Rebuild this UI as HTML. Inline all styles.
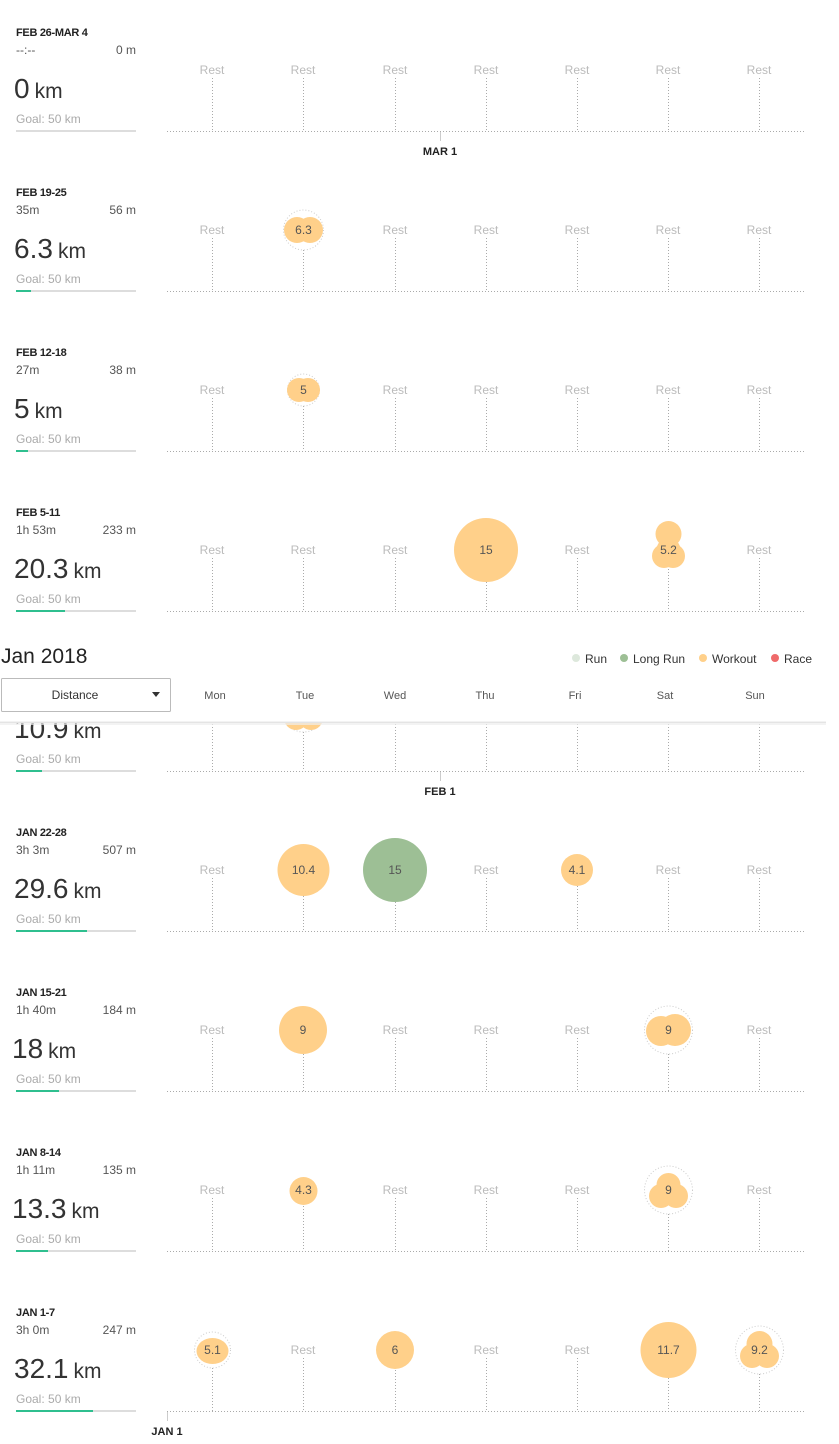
<!DOCTYPE html>
<html><head><meta charset="utf-8"><style>
html,body{margin:0;padding:0;background:#fff;}
svg{display:block;font-family:"Liberation Sans",sans-serif;}
.t{font-size:11px;font-weight:bold;fill:#222;letter-spacing:-0.3px}
.s{font-size:12px;fill:#555}
.b{font-size:28px;fill:#333}
.g{font-size:12px;fill:#aaa}
.r{font-size:12px;fill:#bbb;text-anchor:middle}
.v{font-size:12px;fill:#555;text-anchor:middle}
.dl{stroke:#aaa;stroke-width:1;stroke-dasharray:1,2}
.dc{fill:none;stroke:#ccc;stroke-width:1;stroke-dasharray:1,2}
.o{fill:#ffd08a}
.m{font-size:11px;font-weight:bold;fill:#222;text-anchor:middle}
</style></head><body>
<svg width="839" height="1444" viewBox="0 0 839 1444">
<defs>
<g id="base">
<line x1="167" y1="131.5" x2="804" y2="131.5" class="dl"/>
<rect x="16" y="130" width="120" height="2" fill="#ddd"/>
</g>
</defs>

<g transform="translate(0,0)">
<use href="#base"/>
<text x="16" y="36" class="t">FEB 26-MAR 4</text>
<text x="16" y="54" class="s">--:--</text><text x="136" y="54" class="s" text-anchor="end">0 m</text>
<text x="14" y="98" class="b">0<tspan font-size="21" dx="5">km</tspan></text>
<text x="16" y="123" class="g">Goal: 50 km</text>
<g class="dl"><line x1="212.5" y1="78" x2="212.5" y2="131"/><line x1="303.5" y1="78" x2="303.5" y2="131"/><line x1="395.5" y1="78" x2="395.5" y2="131"/><line x1="486.5" y1="78" x2="486.5" y2="131"/><line x1="577.5" y1="78" x2="577.5" y2="131"/><line x1="668.5" y1="78" x2="668.5" y2="131"/><line x1="759.5" y1="78" x2="759.5" y2="131"/></g>
<text x="212" y="74" class="r">Rest</text><text x="303" y="74" class="r">Rest</text><text x="395" y="74" class="r">Rest</text><text x="486" y="74" class="r">Rest</text><text x="577" y="74" class="r">Rest</text><text x="668" y="74" class="r">Rest</text><text x="759" y="74" class="r">Rest</text>
<line x1="440.5" y1="132" x2="440.5" y2="141" stroke="#ccc"/>
<text x="440" y="155" class="m">MAR 1</text>
</g>

<g transform="translate(0,160)">
<use href="#base"/><rect x="16" y="130" width="15" height="2" fill="#2fbf8f"/>
<text x="16" y="36" class="t">FEB 19-25</text>
<text x="16" y="54" class="s">35m</text><text x="136" y="54" class="s" text-anchor="end">56 m</text>
<text x="14" y="98" class="b">6.3<tspan font-size="21" dx="5">km</tspan></text>
<text x="16" y="123" class="g">Goal: 50 km</text>
<g class="dl"><line x1="212.5" y1="78" x2="212.5" y2="131"/><line x1="303.5" y1="90" x2="303.5" y2="131"/><line x1="395.5" y1="78" x2="395.5" y2="131"/><line x1="486.5" y1="78" x2="486.5" y2="131"/><line x1="577.5" y1="78" x2="577.5" y2="131"/><line x1="668.5" y1="78" x2="668.5" y2="131"/><line x1="759.5" y1="78" x2="759.5" y2="131"/></g>
<text x="212" y="74" class="r">Rest</text><text x="395" y="74" class="r">Rest</text><text x="486" y="74" class="r">Rest</text><text x="577" y="74" class="r">Rest</text><text x="668" y="74" class="r">Rest</text><text x="759" y="74" class="r">Rest</text>
<circle cx="303.5" cy="70" r="20" class="dc"/><circle cx="297" cy="70" r="13" class="o"/><circle cx="310" cy="70" r="13" class="o"/>
<text x="303.5" y="74" class="v">6.3</text>
</g>

<g transform="translate(0,320)">
<use href="#base"/><rect x="16" y="130" width="12" height="2" fill="#2fbf8f"/>
<text x="16" y="36" class="t">FEB 12-18</text>
<text x="16" y="54" class="s">27m</text><text x="136" y="54" class="s" text-anchor="end">38 m</text>
<text x="14" y="98" class="b">5<tspan font-size="21" dx="5">km</tspan></text>
<text x="16" y="123" class="g">Goal: 50 km</text>
<g class="dl"><line x1="212.5" y1="78" x2="212.5" y2="131"/><line x1="303.5" y1="86" x2="303.5" y2="131"/><line x1="395.5" y1="78" x2="395.5" y2="131"/><line x1="486.5" y1="78" x2="486.5" y2="131"/><line x1="577.5" y1="78" x2="577.5" y2="131"/><line x1="668.5" y1="78" x2="668.5" y2="131"/><line x1="759.5" y1="78" x2="759.5" y2="131"/></g>
<text x="212" y="74" class="r">Rest</text><text x="395" y="74" class="r">Rest</text><text x="486" y="74" class="r">Rest</text><text x="577" y="74" class="r">Rest</text><text x="668" y="74" class="r">Rest</text><text x="759" y="74" class="r">Rest</text>
<circle cx="303.5" cy="70" r="16" class="dc"/><circle cx="299" cy="70" r="12" class="o"/><circle cx="308" cy="70" r="12" class="o"/>
<text x="303.5" y="74" class="v">5</text>
</g>

<g transform="translate(0,480)">
<use href="#base"/><rect x="16" y="130" width="49" height="2" fill="#2fbf8f"/>
<text x="16" y="36" class="t">FEB 5-11</text>
<text x="16" y="54" class="s">1h 53m</text><text x="136" y="54" class="s" text-anchor="end">233 m</text>
<text x="14" y="98" class="b">20.3<tspan font-size="21" dx="5">km</tspan></text>
<text x="16" y="123" class="g">Goal: 50 km</text>
<g class="dl"><line x1="212.5" y1="78" x2="212.5" y2="131"/><line x1="303.5" y1="78" x2="303.5" y2="131"/><line x1="395.5" y1="78" x2="395.5" y2="131"/><line x1="486.5" y1="102" x2="486.5" y2="131"/><line x1="577.5" y1="78" x2="577.5" y2="131"/><line x1="668.5" y1="89" x2="668.5" y2="131"/><line x1="759.5" y1="78" x2="759.5" y2="131"/></g>
<text x="212" y="74" class="r">Rest</text><text x="303" y="74" class="r">Rest</text><text x="395" y="74" class="r">Rest</text><text x="577" y="74" class="r">Rest</text><text x="759" y="74" class="r">Rest</text>
<circle cx="486" cy="70" r="32" class="o"/><text x="486" y="74" class="v">15</text>
<circle cx="668.5" cy="54" r="13" class="o"/><circle cx="664" cy="76" r="12" class="o"/><circle cx="673" cy="76" r="12" class="o"/><circle cx="668.5" cy="70" r="12" class="o"/>
<text x="668.5" y="74" class="v">5.2</text>
</g>

<g transform="translate(0,640)">
<use href="#base"/><rect x="16" y="130" width="26" height="2" fill="#2fbf8f"/>
<text x="14" y="98" class="b">10.9<tspan font-size="21" dx="5">km</tspan></text>
<text x="16" y="123" class="g">Goal: 50 km</text>
<g class="dl"><line x1="212.5" y1="78" x2="212.5" y2="131"/><line x1="303.5" y1="92" x2="303.5" y2="131"/><line x1="395.5" y1="78" x2="395.5" y2="131"/><line x1="486.5" y1="78" x2="486.5" y2="131"/><line x1="577.5" y1="78" x2="577.5" y2="131"/><line x1="668.5" y1="78" x2="668.5" y2="131"/><line x1="759.5" y1="78" x2="759.5" y2="131"/></g>
<circle cx="303.5" cy="71" r="21" class="dc"/><circle cx="296" cy="78" r="12" class="o"/><circle cx="311" cy="78" r="12" class="o"/><circle cx="303.5" cy="70" r="14" class="o"/>
<line x1="440.5" y1="132" x2="440.5" y2="141" stroke="#ccc"/>
<text x="440" y="155" class="m">FEB 1</text>
</g>

<rect x="0" y="640" width="826" height="82" fill="#fff"/>
<rect x="0" y="721" width="826" height="4" fill="#eee" opacity="0.7"/>
<rect x="0" y="722" width="826" height="1" fill="#e4e4e4"/>
<text x="1" y="663" font-size="21" fill="#222">Jan 2018</text>
<circle cx="576" cy="658" r="4" fill="#dde8dc"/><text x="585" y="663" font-size="12" fill="#333">Run</text>
<circle cx="624" cy="658" r="4" fill="#9dbf95"/><text x="633" y="663" font-size="12" fill="#333">Long Run</text>
<circle cx="703" cy="658" r="4" fill="#ffd08a"/><text x="712" y="663" font-size="12" fill="#333">Workout</text>
<circle cx="775" cy="658" r="4" fill="#ef6a6a"/><text x="784" y="663" font-size="12" fill="#333">Race</text>
<rect x="1.5" y="678.5" width="169" height="33" fill="#fff" stroke="#bbb" rx="1"/>
<text x="75" y="699" font-size="12" fill="#333" text-anchor="middle">Distance</text>
<polygon points="152,692 160,692 156,697" fill="#333"/>
<g font-size="11" fill="#555" text-anchor="middle">
<text x="215" y="699">Mon</text><text x="305" y="699">Tue</text><text x="395" y="699">Wed</text><text x="485" y="699">Thu</text><text x="575" y="699">Fri</text><text x="665" y="699">Sat</text><text x="755" y="699">Sun</text>
</g>

<g transform="translate(0,800)">
<use href="#base"/><rect x="16" y="130" width="71" height="2" fill="#2fbf8f"/>
<text x="16" y="36" class="t">JAN 22-28</text>
<text x="16" y="54" class="s">3h 3m</text><text x="136" y="54" class="s" text-anchor="end">507 m</text>
<text x="14" y="98" class="b">29.6<tspan font-size="21" dx="5">km</tspan></text>
<text x="16" y="123" class="g">Goal: 50 km</text>
<g class="dl"><line x1="212.5" y1="78" x2="212.5" y2="131"/><line x1="303.5" y1="96" x2="303.5" y2="131"/><line x1="395.5" y1="102" x2="395.5" y2="131"/><line x1="486.5" y1="78" x2="486.5" y2="131"/><line x1="577.5" y1="86" x2="577.5" y2="131"/><line x1="668.5" y1="78" x2="668.5" y2="131"/><line x1="759.5" y1="78" x2="759.5" y2="131"/></g>
<text x="212" y="74" class="r">Rest</text><text x="486" y="74" class="r">Rest</text><text x="668" y="74" class="r">Rest</text><text x="759" y="74" class="r">Rest</text>
<circle cx="303.5" cy="70" r="26" class="o"/><text x="303.5" y="74" class="v">10.4</text>
<circle cx="395" cy="70" r="32" fill="#9dbf95"/><text x="395" y="74" class="v">15</text>
<circle cx="577" cy="70" r="16" class="o"/><text x="577" y="74" class="v">4.1</text>
</g>

<g transform="translate(0,960)">
<use href="#base"/><rect x="16" y="130" width="43" height="2" fill="#2fbf8f"/>
<text x="16" y="36" class="t">JAN 15-21</text>
<text x="16" y="54" class="s">1h 40m</text><text x="136" y="54" class="s" text-anchor="end">184 m</text>
<text x="12" y="98" class="b">18<tspan font-size="21" dx="5">km</tspan></text>
<text x="16" y="123" class="g">Goal: 50 km</text>
<g class="dl"><line x1="212.5" y1="78" x2="212.5" y2="131"/><line x1="303.5" y1="94" x2="303.5" y2="131"/><line x1="395.5" y1="78" x2="395.5" y2="131"/><line x1="486.5" y1="78" x2="486.5" y2="131"/><line x1="577.5" y1="78" x2="577.5" y2="131"/><line x1="668.5" y1="94" x2="668.5" y2="131"/><line x1="759.5" y1="78" x2="759.5" y2="131"/></g>
<text x="212" y="74" class="r">Rest</text><text x="395" y="74" class="r">Rest</text><text x="486" y="74" class="r">Rest</text><text x="577" y="74" class="r">Rest</text><text x="759" y="74" class="r">Rest</text>
<circle cx="303" cy="70" r="24" class="o"/><text x="303" y="74" class="v">9</text>
<circle cx="668.5" cy="70" r="24" class="dc"/><circle cx="661" cy="71" r="15" class="o"/><circle cx="675" cy="70" r="16" class="o"/>
<text x="668.5" y="74" class="v">9</text>
</g>

<g transform="translate(0,1120)">
<use href="#base"/><rect x="16" y="130" width="32" height="2" fill="#2fbf8f"/>
<text x="16" y="36" class="t">JAN 8-14</text>
<text x="16" y="54" class="s">1h 11m</text><text x="136" y="54" class="s" text-anchor="end">135 m</text>
<text x="12" y="98" class="b">13.3<tspan font-size="21" dx="5">km</tspan></text>
<text x="16" y="123" class="g">Goal: 50 km</text>
<g class="dl"><line x1="212.5" y1="78" x2="212.5" y2="131"/><line x1="303.5" y1="86" x2="303.5" y2="131"/><line x1="395.5" y1="78" x2="395.5" y2="131"/><line x1="486.5" y1="78" x2="486.5" y2="131"/><line x1="577.5" y1="78" x2="577.5" y2="131"/><line x1="668.5" y1="94" x2="668.5" y2="131"/><line x1="759.5" y1="78" x2="759.5" y2="131"/></g>
<text x="212" y="74" class="r">Rest</text><text x="395" y="74" class="r">Rest</text><text x="486" y="74" class="r">Rest</text><text x="577" y="74" class="r">Rest</text><text x="759" y="74" class="r">Rest</text>
<circle cx="303.5" cy="71" r="14" class="o"/><text x="303.5" y="74" class="v">4.3</text>
<circle cx="668.5" cy="70" r="24" class="dc"/><circle cx="668.5" cy="65" r="12" class="o"/><circle cx="661" cy="76" r="12" class="o"/><circle cx="676" cy="76" r="12" class="o"/><circle cx="668.5" cy="72" r="12" class="o"/>
<text x="668.5" y="74" class="v">9</text>
</g>

<g transform="translate(0,1280)">
<use href="#base"/><rect x="16" y="130" width="77" height="2" fill="#2fbf8f"/>
<text x="16" y="36" class="t">JAN 1-7</text>
<text x="16" y="54" class="s">3h 0m</text><text x="136" y="54" class="s" text-anchor="end">247 m</text>
<text x="14" y="98" class="b">32.1<tspan font-size="21" dx="5">km</tspan></text>
<text x="16" y="123" class="g">Goal: 50 km</text>
<g class="dl"><line x1="212.5" y1="88" x2="212.5" y2="131"/><line x1="303.5" y1="78" x2="303.5" y2="131"/><line x1="395.5" y1="90" x2="395.5" y2="131"/><line x1="486.5" y1="78" x2="486.5" y2="131"/><line x1="577.5" y1="78" x2="577.5" y2="131"/><line x1="668.5" y1="98" x2="668.5" y2="131"/><line x1="759.5" y1="94" x2="759.5" y2="131"/></g>
<text x="303" y="74" class="r">Rest</text><text x="486" y="74" class="r">Rest</text><text x="577" y="74" class="r">Rest</text>
<circle cx="212.5" cy="70" r="18" class="dc"/><ellipse cx="212.5" cy="71" rx="16" ry="13" class="o"/><text x="212.5" y="74" class="v">5.1</text>
<circle cx="395" cy="70" r="19" class="o"/><text x="395" y="74" class="v">6</text>
<circle cx="668.5" cy="70" r="28" class="o"/><text x="668.5" y="74" class="v">11.7</text>
<circle cx="759.5" cy="70" r="24" class="dc"/><circle cx="759.5" cy="64" r="13" class="o"/><circle cx="752" cy="76" r="12" class="o"/><circle cx="767" cy="76" r="12" class="o"/><circle cx="759.5" cy="72" r="12" class="o"/>
<text x="759.5" y="74" class="v">9.2</text>
<line x1="167.5" y1="132" x2="167.5" y2="141" stroke="#ccc"/>
<text x="167" y="155" class="m">JAN 1</text>
</g>
</svg>
</body></html>
